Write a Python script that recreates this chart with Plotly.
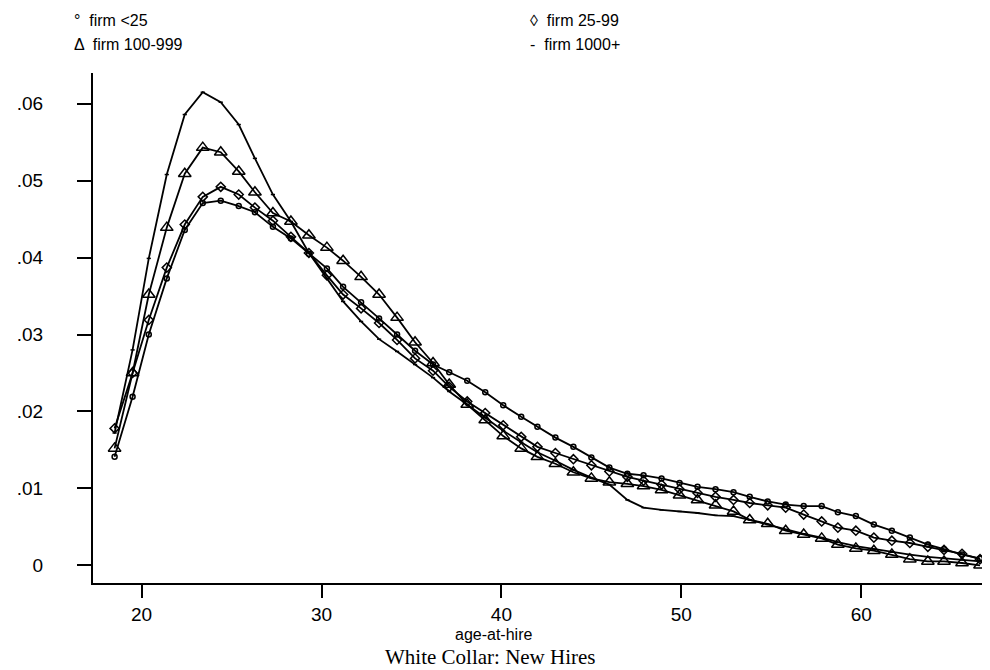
import plotly.graph_objects as go

# age-at-hire positions of the plotted points
ages = [18.5, 19.5, 20.4, 21.4, 22.4, 23.4, 24.4, 25.4, 26.3, 27.3,
        28.3, 29.3, 30.3, 31.2, 32.2, 33.2, 34.2, 35.2, 36.2, 37.1,
        38.1, 39.1, 40.1, 41.1, 42.0, 43.0, 44.0, 45.0, 46.0, 47.0,
        47.9, 48.9, 49.9, 50.9, 51.9, 52.9, 53.8, 54.8, 55.8, 56.8,
        57.8, 58.7, 59.7, 60.7, 61.7, 62.7, 63.7, 64.6, 65.6, 66.6]

firm_lt25 = [.0141, .0219, .0300, .0373, .0436, .0471, .0474, .0467, .0459, .0440,
             .0425, .0405, .0386, .0362, .0342, .0321, .0300, .0279, .0261, .0251,
             .0240, .0225, .0208, .0193, .0180, .0166, .0154, .0140, .0127, .0119,
             .0117, .0113, .0107, .0102, .0099, .0095, .0089, .0083, .0079, .0077,
             .0077, .0069, .0064, .0053, .0045, .0036, .0027, .0021, .0014, .0009]

firm_25_99 = [.0178, .0250, .0319, .0387, .0443, .0479, .0492, .0482, .0465, .0448,
              .0427, .0406, .0377, .0352, .0334, .0315, .0293, .0269, .0253, .0232,
              .0213, .0198, .0182, .0167, .0154, .0146, .0138, .0130, .0122, .0115,
              .0110, .0105, .0099, .0094, .0089, .0085, .0081, .0078, .0075, .0066,
              .0057, .0049, .0045, .0036, .0032, .0029, .0024, .0020, .0015, .0008]

firm_100_999 = [.0152, .0250, .0352, .0439, .0509, .0543, .0537, .0512, .0485, .0458,
                .0447, .0429, .0413, .0396, .0375, .0352, .0322, .0290, .0263, .0235,
                .0209, .0189, .0168, .0152, .0141, .0132, .0121, .0113, .0108, .0106,
                .0103, .0098, .0091, .0085, .0078, .0070, .0059, .0054, .0045, .0040,
                .0035, .0027, .0022, .0019, .0014, .0008, .0005, .0005, .0003, .0000]

firm_1000 = [.0172, .0280, .0399, .0508, .0586, .0615, .0602, .0573, .0529, .0482,
             .0447, .0406, .0373, .0343, .0317, .0294, .0278, .0261, .0244, .0226,
             .0209, .0192, .0175, .0160, .0147, .0136, .0124, .0114, .0105, .0085,
             .0075, .0072, .0070, .0068, .0065, .0064, .0059, .0053, .0046, .0041,
             .0036, .0030, .0025, .0021, .0017, .0014, .0011, .0009, .0007, .0005]

y_ticks = [0, .01, .02, .03, .04, .05, .06]
y_tick_text = ['0', '.01', '.02', '.03', '.04', '.05', '.06']
x_ticks = [20, 30, 40, 50, 60]

series = [
    ('firm <25', firm_lt25, 'circle-open', 5),
    ('firm 25-99', firm_25_99, 'diamond-open', 7),
    ('firm 100-999', firm_100_999, 'triangle-up-open', 11),
    ('firm 1000+', firm_1000, 'line-ew', 3),
]

fig = go.Figure()
for name, vals, sym, size in series:
    fig.add_trace(go.Scatter(x=ages, y=vals, mode='lines+markers', name=name,
                             line=dict(color='black', width=1.8),
                             marker=dict(symbol=sym, size=size, color='black',
                                         line=dict(color='black', width=1.5))))

# legend drawn as text above the plot, two columns
legend_items = [
    ('\u00b0  firm <25', 0, 13),
    ('\u25ca  firm 25-99', 1, 13),
    ('\u0394  firm 100-999', 0, 37),
    ('-  firm 1000+', 1, 37),
]
annotations = []
for text, col, py in legend_items:
    px = 64 if col == 0 else 520
    annotations.append(dict(text=text, xref='paper', yref='paper',
                            x=(px - 85) / 905, y=(575 - py) / 510,
                            xanchor='left', yanchor='middle', showarrow=False,
                            font=dict(family='Liberation Sans', size=16, color='black')))
annotations.append(dict(text='age-at-hire', xref='paper', yref='paper',
                        x=(485 - 85) / 905, y=(575 - 626) / 510,
                        xanchor='center', yanchor='middle', showarrow=False,
                        font=dict(family='Liberation Sans', size=16, color='black')))
annotations.append(dict(text='White Collar: New Hires', xref='paper', yref='paper',
                        x=(482 - 85) / 905, y=(575 - 649) / 510,
                        xanchor='center', yanchor='middle', showarrow=False,
                        font=dict(family='Liberation Serif', size=21, color='black')))

fig.update_layout(
    width=990, height=670,
    margin=dict(l=85, r=0, t=65, b=95),
    paper_bgcolor='white', plot_bgcolor='white',
    showlegend=False,
    annotations=annotations,
    font=dict(family='Liberation Sans', color='black'),
)
fig.update_xaxes(range=[17.3, 67.6], tickvals=x_ticks, showgrid=False, zeroline=False,
                 showline=True, linecolor='black', linewidth=2,
                 ticks='outside', ticklen=13, tickwidth=2, tickcolor='black',
                 tickfont=dict(size=19, family='Liberation Sans'))
fig.update_yaxes(range=[-0.0023, 0.064], tickvals=y_ticks, ticktext=y_tick_text,
                 showgrid=False, zeroline=False,
                 showline=True, linecolor='black', linewidth=2,
                 ticks='outside', ticklen=14, tickwidth=2, tickcolor='black',
                 ticklabelstandoff=30,
                 tickfont=dict(size=19, family='Liberation Sans'))

fig.write_html("out.html")
